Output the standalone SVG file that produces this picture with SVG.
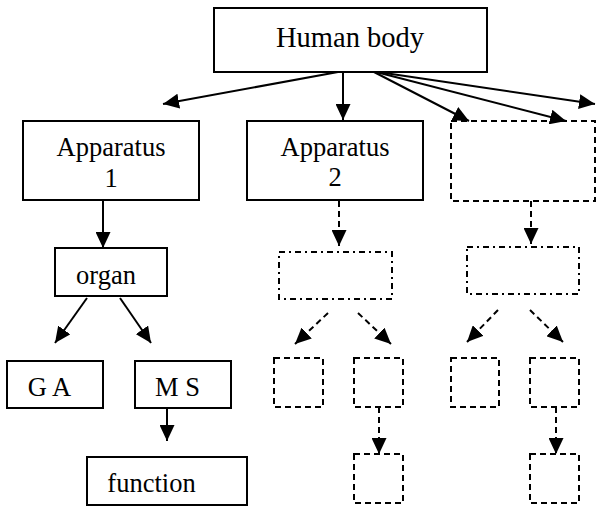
<svg xmlns="http://www.w3.org/2000/svg" width="596" height="507" viewBox="0 0 596 507">
<style>
  .box { fill: #fff; stroke: #000; stroke-width: 2; }
  .dash { fill: none; stroke: #000; stroke-width: 2; stroke-dasharray: 6 4; }
  .dashdot { fill: none; stroke: #000; stroke-width: 2; stroke-dasharray: 6 4 2 4; }
  .t { font-family: "Liberation Serif", "Times New Roman", serif; font-size: 26.5px; fill: #000; text-anchor: middle; }
  .big { font-size: 28.5px; }
  .edge { stroke: #000; stroke-width: 2; fill: none; marker-end: url(#ah); }
  .edashed { stroke: #000; stroke-width: 2; fill: none; stroke-dasharray: 6 4; marker-end: url(#ah); }
</style>
<defs>
  <marker id="ah" markerUnits="userSpaceOnUse" markerWidth="16" markerHeight="15" viewBox="0 0 16 15" refX="16" refY="7.5" orient="auto">
    <path d="M0,0 L16,7.5 L0,15 z" fill="#000"/>
  </marker>
</defs>
<g id="connectors">
  <line class="edge" x1="338" y1="72" x2="163" y2="104"/>
  <line class="edge" x1="343" y1="72" x2="343" y2="120"/>
  <line class="edge" x1="374" y1="72" x2="469" y2="121"/>
  <line class="edge" x1="376" y1="72" x2="566" y2="121"/>
  <line class="edge" x1="378" y1="72" x2="595" y2="104"/>
  <line class="edge" x1="103" y1="200" x2="103" y2="248"/>
  <line class="edge" x1="87" y1="298" x2="55" y2="343"/>
  <line class="edge" x1="120" y1="298" x2="151" y2="343"/>
  <line class="edge" x1="167" y1="408" x2="167" y2="441"/>
  <line class="edashed" x1="339" y1="201" x2="339" y2="246"/>
  <line class="edashed" x1="531" y1="201" x2="531" y2="244"/>
  <line class="edashed" x1="328" y1="313" x2="295" y2="344"/>
  <line class="edashed" x1="358" y1="313" x2="391" y2="344"/>
  <line class="edashed" x1="498" y1="310" x2="467" y2="342"/>
  <line class="edashed" x1="530" y1="310" x2="563" y2="342"/>
  <line class="edashed" x1="379" y1="407" x2="379" y2="454"/>
  <line class="edashed" x1="556" y1="407" x2="556" y2="454"/>
</g>
<g id="human-body">
  <rect class="box" x="214" y="8" width="273" height="64"/>
  <text class="t big" x="350" y="47">Human body</text>
</g>
<g id="apparatus-1">
  <rect class="box" x="23" y="121" width="176" height="79"/>
  <text class="t" x="111" y="156">Apparatus</text>
  <text class="t" x="111" y="187">1</text>
</g>
<g id="apparatus-2">
  <rect class="box" x="247" y="121" width="176" height="79"/>
  <text class="t" x="335" y="156">Apparatus</text>
  <text class="t" x="335" y="186">2</text>
</g>
<g id="apparatus-3">
  <rect class="dash" x="451" y="121" width="144" height="80"/>
</g>
<g id="organ">
  <rect class="box" x="55" y="248" width="112" height="48"/>
  <text class="t" x="106" y="284">organ</text>
</g>
<g id="ga">
  <rect class="box" x="7" y="361" width="96" height="47"/>
  <text class="t" x="49.5" y="396">G A</text>
</g>
<g id="ms">
  <rect class="box" x="135" y="361" width="96" height="47"/>
  <text class="t" x="177.5" y="396">M S</text>
</g>
<g id="function">
  <rect class="box" x="87" y="457" width="160" height="48"/>
  <text class="t" x="151.5" y="492">function</text>
</g>
<g id="organ-2">
  <rect class="dashdot" x="279" y="252" width="113" height="47"/>
</g>
<g id="organ-3">
  <rect class="dashdot" x="467" y="247" width="112" height="47"/>
</g>
<g id="leaf-2a"><rect class="dash" x="274" y="358" width="49" height="49"/></g>
<g id="leaf-2b"><rect class="dash" x="354" y="358" width="49" height="49"/></g>
<g id="leaf-3a"><rect class="dash" x="451" y="358" width="48" height="49"/></g>
<g id="leaf-3b"><rect class="dash" x="530" y="358" width="49" height="49"/></g>
<g id="leaf-2c"><rect class="dash" x="354" y="454" width="49" height="49"/></g>
<g id="leaf-3c"><rect class="dash" x="530" y="454" width="49" height="49"/></g>
</svg>
